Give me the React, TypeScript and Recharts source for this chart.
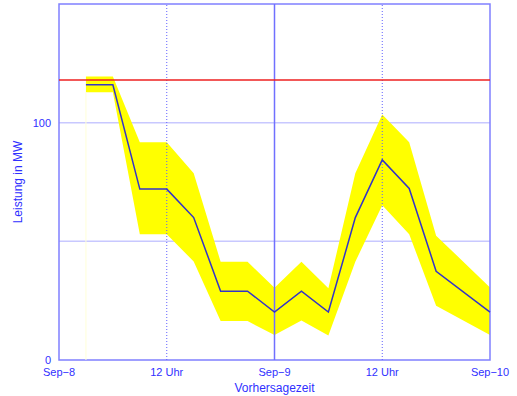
import {
  ComposedChart, Area, Line, XAxis, YAxis, CartesianGrid, ReferenceLine, ReferenceArea,
} from 'recharts'

// forecast hours after Sep-8 00:00
const hours = [3, 6, 9, 12, 15, 18, 21, 24, 27, 30, 33, 36, 39, 42, 48]
const forecast = [116, 116, 72, 72, 60, 29, 29, 20.2, 29, 20.2, 60, 84.3, 72.3, 37.4, 20.2]
const upper = [119.5, 119.5, 91.7, 91.7, 78.7, 41.4, 41.4, 30.4, 41.4, 30.2, 78.7, 103.4, 91.7, 52.4, 30.6]
const lower = [112.8, 112.8, 53, 53, 41.5, 16.4, 16.4, 10.5, 16.6, 10.3, 41.4, 65.2, 53, 22.9, 10.5]
const capacity = 118

const xTicks = [0, 12, 24, 36, 48]
const xTickLabels = ['Sep\u22128', '12 Uhr', 'Sep\u22129', '12 Uhr', 'Sep\u221210']
const yTicks = [0, 100]
const yGrid = [50, 100]

const data = hours.map((h, i) => ({
  h,
  forecast: forecast[i],
  band: [lower[i], upper[i]],
}))

const FONT = '"Liberation Sans", Arial, Helvetica, sans-serif'
const TEXT = '#3030ff'

export default function App() {
  return (
    <div style={{ position: 'absolute', left: 0, top: 0, width: 517, height: 396, background: '#fff' }}>
      <ComposedChart
        width={517}
        height={396}
        data={data}
        margin={{ top: 4, right: 27, bottom: 0, left: 9 }}
        style={{ fontFamily: FONT }}
      >
        <CartesianGrid
          vertical={false}
          horizontalValues={yGrid}
          stroke="#c8c8ff"
          strokeWidth={1.5}
        />
        <XAxis
          dataKey="h"
          type="number"
          domain={[0, 48]}
          ticks={xTicks}
          tickFormatter={(v: number) => xTickLabels[xTicks.indexOf(v)]}
          height={36}
          tickSize={0}
          tickMargin={8}
          axisLine={false}
          tickLine={false}
          tick={{ fill: TEXT, fontSize: 11 }}
          label={{ value: 'Vorhersagezeit', position: 'insideBottom', offset: 4, fill: TEXT, fontSize: 12 }}
        />
        <YAxis
          type="number"
          domain={[0, 150]}
          ticks={yTicks}
          width={50}
          tickSize={0}
          tickMargin={8}
          axisLine={false}
          tickLine={false}
          tick={{ fill: TEXT, fontSize: 11 }}
          label={{ value: 'Leistung in MW', angle: -90, position: 'center', dx: -16, fill: TEXT, fontSize: 12 }}
        />
        <ReferenceLine
          segment={[{ x: hours[0], y: 0 }, { x: hours[0], y: lower[0] }]}
          stroke="#ffffd8"
          strokeWidth={1}
        />
        <Area
          type="linear"
          dataKey="band"
          stroke="none"
          fill="#ffff00"
          fillOpacity={1}
          isAnimationActive={false}
          activeDot={false}
        />
        <ReferenceLine x={12} stroke="#6060ff" strokeDasharray="1 2" strokeWidth={1} />
        <ReferenceLine x={36} stroke="#6060ff" strokeDasharray="1 2" strokeWidth={1} />
        <ReferenceLine x={24} stroke="#7070ff" strokeWidth={1.5} />
        <ReferenceLine y={capacity} stroke="#ee2020" strokeWidth={1.5} />
        <Line
          type="linear"
          dataKey="forecast"
          stroke="#3434c8"
          strokeWidth={1.5}
          dot={false}
          activeDot={false}
          isAnimationActive={false}
        />
        <ReferenceArea x1={0} x2={48} y1={0} y2={150} fill="none" stroke="#8080ff" strokeWidth={1.5} />
      </ComposedChart>
    </div>
  )
}
